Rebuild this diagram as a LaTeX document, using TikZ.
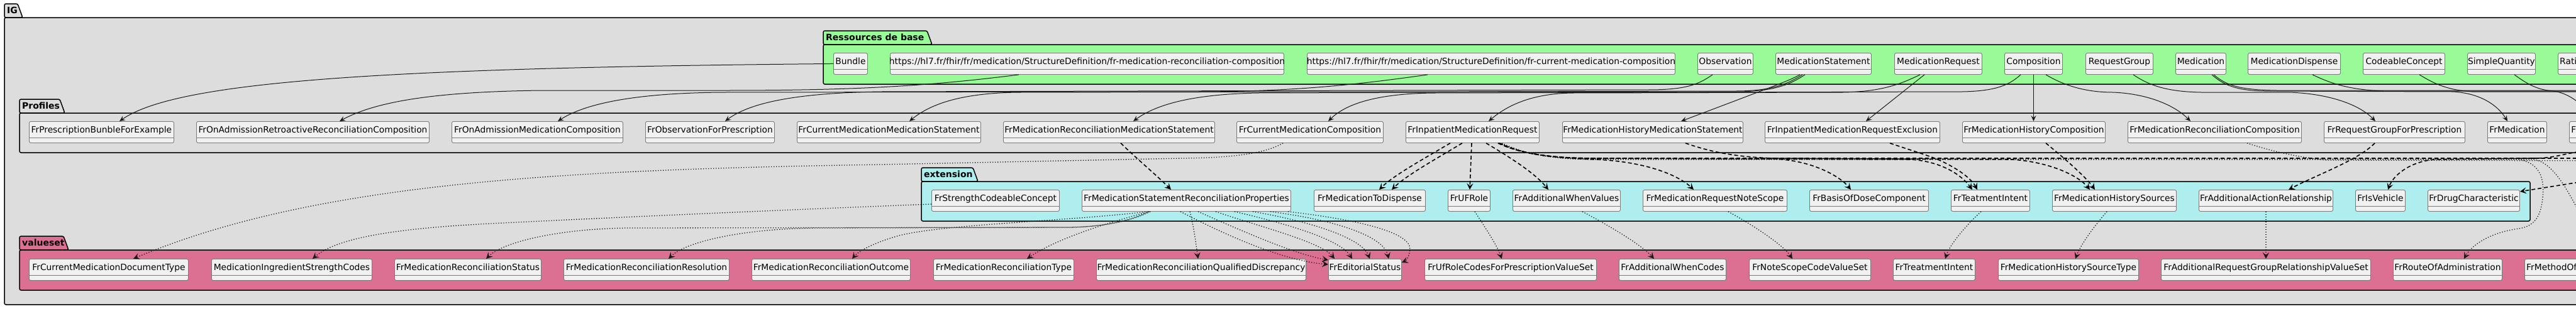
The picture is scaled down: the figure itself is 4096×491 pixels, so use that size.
\documentclass[tikz,border=0pt]{standalone}
\usepackage{fontspec}
\setmainfont{DejaVu Sans}
\usetikzlibrary{arrows.meta,calc}
\definecolor{igbg}{HTML}{DDDDDD}
\definecolor{resbg}{HTML}{98FB98}
\definecolor{extbg}{HTML}{AFEEEE}
\definecolor{vsbg}{HTML}{DB7093}
\definecolor{clsbg}{HTML}{F1F1F1}
\definecolor{clsline}{HTML}{7A7A7A}
\definecolor{edgec}{HTML}{181818}
\tikzset{
 cls/.style={draw=clsline, fill=clsbg, line width=0.9pt, rounded corners=2.5pt, minimum height=34, inner sep=0pt, anchor=north west},
 sepl/.style={draw=clsline, line width=0.9pt},
 lbl/.style={font=\fontsize{13.8}{16}\selectfont, inner sep=0pt, anchor=base},
 lblw/.style={font=\fontsize{13.8}{16}\selectfont, inner sep=0pt, anchor=base west},
 frm/.style={draw=black, line width=1.5pt},
 tablbl/.style={font=\bfseries\fontsize{14}{16}\selectfont, inner sep=0pt, anchor=base west},
 gen/.style={draw=edgec, line width=1pt, -{Stealth[length=9pt,width=8pt,inset=3.5pt]}},
 dep/.style={draw=black, line width=1.6pt, dash pattern=on 6pt off 4pt, -{Stealth[length=10pt,width=10pt,inset=4pt]}},
 bind/.style={draw=edgec, line width=1.3pt, dash pattern=on 1.3pt off 2.7pt, -{Stealth[length=10pt,width=10pt,inset=4pt]}},
}
\newcommand\umlbox[5]{%
 \node[cls, minimum width={#3-#2}] (#1) at (#2,#4) {};
 \draw[sepl] ($(#1.north west)+(0,26)$) -- ($(#1.north east)+(0,26)$);
 \node[lbl] (#1t) at ($(#1.north)+(0,18.5)$) {#5};
}
\newcommand\cutbox[4]{%
 \node[cls, minimum width=200] (#1) at (#2,#3) {};
 \draw[sepl] ($(#1.north west)+(0,26)$) -- ($(#1.north east)+(0,26)$);
 \node[lblw] (#1t) at ({#2+3},{#3+18.5}) {#4};
}
\newcommand\umlpkg[9]{%
 \draw[frm, fill=#2, rounded corners=2.5pt] (#4,#7) -- (#4,#6) -- ({#5-8},#6) -- (#5,#7) -- cycle;
 \draw[frm, fill=#2, rounded corners=2.5pt] (#4,#7) rectangle (#8,#9);
 \node[tablbl] (#1) at ({#4+4},{#6+15.5}) {#3};
}
\begin{document}
\begin{tikzpicture}[x=1pt,y=-1pt]
\useasboundingbox (0,0) rectangle (4096,491);
\clip (0,0) rectangle (4096,491);
\fill[white] (0,0) rectangle (4096,491);
% packages
\umlpkg{pkIG}{igbg}{IG}{7}{36}{6}{28}{4200}{485}
\umlpkg{pkRes}{resbg}{Ressources de base}{1309}{1482}{49}{71}{4200}{134}
\umlpkg{pkProf}{igbg}{Profiles}{31}{103}{158}{180}{4200}{243}
\umlpkg{pkExt}{extbg}{extension}{1465}{1555}{267}{289}{4023}{352}
\umlpkg{pkVs}{vsbg}{valueset}{31}{109}{376}{398}{4200}{462}
% Ressources de base
\umlbox{bundle}{1325}{1379}{84}{Bundle}
\umlbox{urlrec}{1415}{2041}{84}{https://hl7.fr/fhir/fr/medication/StructureDefinition/fr-medication-reconciliation-composition}
\umlbox{urlcur}{2078}{2663}{84}{https://hl7.fr/fhir/fr/medication/StructureDefinition/fr-current-medication-composition}
\umlbox{obs}{2699}{2787}{84}{Observation}
\umlbox{mstat}{2823}{2975}{84}{MedicationStatement}
\umlbox{mreq}{3012}{3151}{84}{MedicationRequest}
\umlbox{compo}{3187}{3279}{84}{Composition}
\umlbox{rgroup}{3316}{3423}{84}{RequestGroup}
\umlbox{med}{3459}{3539}{84}{Medication}
\umlbox{mdisp}{3574}{3721}{84}{MedicationDispense}
\umlbox{ccon}{3757}{3887}{84}{CodeableConcept}
\umlbox{squant}{3923}{4031}{84}{SimpleQuantity}
\cutbox{ratio}{4067}{84}{Rati}
% Profiles
\umlbox{pbundle}{46}{276}{193}{FrPrescriptionBunbleForExample}
\umlbox{ponadretro}{312}{682}{193}{FrOnAdmissionRetroactiveReconciliationComposition}
\umlbox{ponadmed}{718}{990}{193}{FrOnAdmissionMedicationComposition}
\umlbox{pobs}{1026}{1231}{193}{FrObservationForPrescription}
\umlbox{pcurms}{1267}{1559}{193}{FrCurrentMedicationMedicationStatement}
\umlbox{precms}{1595}{1931}{193}{FrMedicationReconciliationMedicationStatement}
\umlbox{pcurcomp}{1966}{2199}{193}{FrCurrentMedicationComposition}
\umlbox{pimr}{2235}{2447}{193}{FrInpatientMedicationRequest}
\umlbox{phistms}{2484}{2771}{193}{FrMedicationHistoryMedicationStatement}
\umlbox{pimrex}{2806}{3084}{193}{FrInpatientMedicationRequestExclusion}
\umlbox{phistcomp}{3120}{3347}{193}{FrMedicationHistoryComposition}
\umlbox{preccomp}{3383}{3659}{193}{FrMedicationReconciliationComposition}
\umlbox{prg}{3695}{3919}{193}{FrRequestGroupForPrescription}
\umlbox{pmed}{3955}{4049}{193}{FrMedication}
\cutbox{pnext}{4085}{193}{F}
% extension
\umlbox{estrength}{1481}{1684}{302}{FrStrengthCodeableConcept}
\umlbox{ereconprop}{1720}{2052}{302}{FrMedicationStatementReconciliationProperties}
\umlbox{etodisp}{2089}{2266}{302}{FrMedicationToDispense}
\umlbox{eufrole}{2302}{2369}{302}{FrUFRole}
\umlbox{eaddwhen}{2405}{2576}{302}{FrAdditionalWhenValues}
\umlbox{enotescope}{2612}{2841}{302}{FrMedicationRequestNoteScope}
\umlbox{ebasis}{2877}{3066}{302}{FrBasisOfDoseComponent}
\umlbox{eintent}{3102}{3227}{302}{FrTeatmentIntent}
\umlbox{ehistsrc}{3263}{3460}{302}{FrMedicationHistorySources}
\umlbox{eaction}{3496}{3709}{302}{FrAdditionalActionRelationship}
\umlbox{evehicle}{3745}{3824}{302}{FrIsVehicle}
\umlbox{edrug}{3860}{4006}{302}{FrDrugCharacteristic}
% valueset
\umlbox{vdoctype}{46}{299}{412}{FrCurrentMedicationDocumentType}
\umlbox{vstrength}{336}{591}{412}{MedicationIngredientStrengthCodes}
\umlbox{vstatus}{627}{860}{412}{FrMedicationReconciliationStatus}
\umlbox{vresol}{896}{1159}{412}{FrMedicationReconciliationResolution}
\umlbox{voutcome}{1195}{1447}{412}{FrMedicationReconciliationOutcome}
\umlbox{vtype}{1484}{1707}{412}{FrMedicationReconciliationType}
\umlbox{vdiscr}{1743}{2076}{412}{FrMedicationReconciliationQualifiedDiscrepancy}
\umlbox{veditorial}{2112}{2228}{412}{FrEditorialStatus}
\umlbox{vufrole}{2265}{2538}{412}{FrUfRoleCodesForPrescriptionValueSet}
\umlbox{vaddwhen}{2574}{2744}{412}{FrAdditionalWhenCodes}
\umlbox{vnotescope}{2781}{2974}{412}{FrNoteScopeCodeValueSet}
\umlbox{vintent}{3010}{3140}{412}{FrTreatmentIntent}
\umlbox{vhistsrc}{3177}{3400}{412}{FrMedicationHistorySourceType}
\umlbox{vrgrel}{3436}{3769}{412}{FrAdditionalRequestGroupRelationshipValueSet}
\umlbox{vroute}{3805}{3978}{412}{FrRouteOfAdministration}
\cutbox{vnext}{4014}{412}{FrMethodOf}
% off-picture ends
\coordinate (offA) at (4200,144);
\coordinate (offB) at (4200,145);
\coordinate (offC) at (4200,146);
\coordinate (offD) at (4125,193);
\coordinate (offE) at (4110,240);
\coordinate (offF) at (4120,287);
\coordinate (offG) at (4200,252);
\coordinate (offH) at (4130,400);
\coordinate (offI) at (4200,256);
% generalisations (solid)
\draw[gen] (bundle.west) .. controls (600,108) and (280,130) .. (190,0 |- pbundle.north);
\draw[gen] (1620,0 |- urlrec.south) .. controls (1470,138) and (1350,144) .. (1150,144) -- (860,144) .. controls (700,146) and (600,160) .. (540,0 |- ponadretro.north);
\draw[gen] (2270,0 |- urlcur.south) .. controls (2150,136) and (2050,146) .. (1900,146) -- (1150,147) .. controls (1010,148) and (930,165) .. (887,0 |- ponadmed.north);
\draw[gen] (2723,0 |- obs.south) .. controls (2700,135) and (2680,143) .. (2620,143) -- (1400,146) .. controls (1260,148) and (1190,165) .. (1153,0 |- pobs.north);
\draw[gen] (2866,0 |- mstat.south) .. controls (2845,132) and (2820,145) .. (2760,145) -- (1620,147) .. controls (1530,148) and (1480,165) .. (1446,0 |- pcurms.north);
\draw[gen] (2870,0 |- mstat.south) .. controls (2850,132) and (2825,146) .. (2760,146) -- (2000,148) .. controls (1900,150) and (1840,165) .. (1802,0 |- precms.north);
\draw[gen] (2862,0 |- mstat.south) .. controls (2845,128) .. (2673,0 |- phistms.north);
\draw[gen] (3213,0 |- compo.south) .. controls (3195,135) and (3175,145) .. (3120,146) -- (2280,148) .. controls (2190,149) and (2140,165) .. (2112,0 |- pcurcomp.north);
\draw[gen] (3053,0 |- mreq.south) .. controls (3020,135) and (2990,146) .. (2930,147) -- (2500,148) .. controls (2440,149) and (2400,165) .. (2367,0 |- pimr.north);
\draw[gen] (3060,0 |- mreq.south) -- (2967,0 |- pimrex.north);
\draw[gen] (compo.south) -- (compo.south |- phistcomp.north);
\draw[gen] (3253,0 |- compo.south) .. controls (3285,138) and (3320,147) .. (3360,147) .. controls (3410,149) and (3455,165) .. (3483,0 |- preccomp.north);
\draw[gen] (3392,0 |- rgroup.south) .. controls (3420,138) and (3450,146) .. (3500,147) -- (3640,147) .. controls (3700,149) and (3750,165) .. (3777,0 |- prg.north);
\draw[gen] (3517,0 |- med.south) .. controls (3535,135) and (3555,144) .. (3600,145) -- (3900,146) .. controls (3940,148) and (3970,165) .. (3987,0 |- pmed.north);
\draw[gen] (3520,0 |- med.south) .. controls (3540,136) and (3560,143) .. (3620,144) -- (offA);
\draw[gen] (3677,0 |- mdisp.south) .. controls (3710,135) and (3740,143) .. (3790,145) -- (offB);
\draw[gen] (3847,0 |- ccon.south) .. controls (3870,133) and (3890,143) .. (3930,146) -- (offC);
\draw[gen] (3998,0 |- squant.south) .. controls (4020,135) and (4035,143) .. (4060,145) .. controls (4085,148) and (4110,168) .. (offD);
% dependencies (dashed)
\draw[dep] (1782,0 |- precms.south) .. controls (1810,255) and (1840,280) .. (1862,0 |- ereconprop.north);
\draw[dep] (2306,0 |- pimr.south) .. controls (2260,255) and (2215,280) .. (2193,0 |- etodisp.north);
\draw[dep] (2325,0 |- pimr.south) .. controls (2280,255) and (2235,280) .. (2213,0 |- etodisp.north);
\draw[dep] (2340,0 |- pimr.south) -- (2337,0 |- eufrole.north);
\draw[dep] (2363,0 |- pimr.south) .. controls (2400,250) and (2440,275) .. (2462,0 |- eaddwhen.north);
\draw[dep] (2382,0 |- pimr.south) .. controls (2420,245) and (2470,252) .. (2540,254) .. controls (2620,258) and (2670,280) .. (2693,0 |- enotescope.north);
\draw[dep] (2382,0 |- pimr.south) .. controls (2420,246) and (2470,252) .. (2540,252) -- (2820,253) .. controls (2880,255) and (2925,280) .. (2943,0 |- ebasis.north);
\draw[dep] (2384,0 |- pimr.south) .. controls (2420,246) and (2470,252) .. (2540,252) -- (3040,254) .. controls (3090,258) and (3120,280) .. (3136,0 |- eintent.north);
\draw[dep] (2384,0 |- pimr.south) .. controls (2420,246) and (2470,252) .. (2540,252) -- (offG);
\draw[dep] (3005,0 |- pimrex.south) .. controls (3040,240) and (3075,250) .. (3090,258) .. controls (3115,270) and (3135,285) .. (3144,0 |- eintent.north);
\draw[dep] (2680,0 |- phistms.south) .. controls (2720,242) and (2760,250) .. (2820,252) -- (3200,254) .. controls (3260,258) and (3305,280) .. (3323,0 |- ehistsrc.north);
\draw[dep] (3253,0 |- phistcomp.south) .. controls (3280,250) and (3315,280) .. (3331,0 |- ehistsrc.north);
\draw[dep] (3776,0 |- prg.south) .. controls (3750,255) and (3680,280) .. (3639,0 |- eaction.north);
\draw[dep] (offE) .. controls (4075,245) and (4060,252) .. (4030,252) -- (3870,254) .. controls (3830,258) and (3805,280) .. (3797,0 |- evehicle.north);
\draw[dep] (offF) -- (edrug.east |- 0,305);
% bindings (dotted)
\draw[bind] (2040,0 |- pcurcomp.south) .. controls (2010,245) and (1960,251) .. (1880,252) -- (1400,262) .. controls (900,270) and (500,290) .. (212,0 |- vdoctype.north);
\draw[bind] (estrength.west |- 0,325) .. controls (1300,332) and (1000,345) .. (800,355) .. controls (650,362) and (540,375) .. (497,0 |- vstrength.north);
\draw[bind] (1827,0 |- ereconprop.south) .. controls (1800,350) and (1760,361) .. (1700,362) -- (1000,363) .. controls (890,364) and (800,385) .. (773,0 |- vstatus.north);
\draw[bind] (1829,0 |- ereconprop.south) .. controls (1802,350) and (1762,361) .. (1700,362) -- (1300,363) .. controls (1180,364) and (1090,385) .. (1063,0 |- vresol.north);
\draw[bind] (1825,0 |- ereconprop.south) .. controls (1700,352) and (1500,357) .. (1430,375) .. controls (1390,386) and (1365,400) .. (1355,0 |- voutcome.north);
\draw[bind] (1827,0 |- ereconprop.south) .. controls (1760,355) and (1680,380) .. (1633,0 |- vtype.north);
\draw[bind] (1892,0 |- ereconprop.south) .. controls (1898,360) and (1902,390) .. (1905,0 |- vdiscr.north);
\draw[bind] (1877,0 |- ereconprop.south) .. controls (1950,375) and (2040,415) .. (veditorial.west |- 0,421);
\draw[bind] (1905,0 |- ereconprop.south) .. controls (1980,370) and (2060,405) .. (veditorial.west |- 0,414);
\draw[bind] (1933,0 |- ereconprop.south) .. controls (2000,360) and (2100,385) .. (2122,0 |- veditorial.north);
\draw[bind] (1963,0 |- ereconprop.south) .. controls (2040,355) and (2130,380) .. (2150,0 |- veditorial.north);
\draw[bind] (1992,0 |- ereconprop.south) .. controls (2080,352) and (2165,378) .. (2178,0 |- veditorial.north);
\draw[bind] (2020,0 |- ereconprop.south) .. controls (2120,350) and (2200,375) .. (2208,0 |- veditorial.north);
\draw[bind] (2048,0 |- ereconprop.south) .. controls (2160,350) and (2245,370) .. (2242,398) .. controls (2240,410) and (2236,415) .. (veditorial.east |- 0,418);
\draw[bind] (2345,0 |- eufrole.south) .. controls (2360,360) and (2380,390) .. (2388,0 |- vufrole.north);
\draw[bind] (2516,0 |- eaddwhen.south) .. controls (2560,360) and (2610,390) .. (2630,0 |- vaddwhen.north);
\draw[bind] (2748,0 |- enotescope.south) .. controls (2790,360) and (2835,390) .. (2850,0 |- vnotescope.north);
\draw[bind] (3150,0 |- eintent.south) .. controls (3125,360) and (3100,390) .. (3093,0 |- vintent.north);
\draw[bind] (3350,0 |- ehistsrc.south) .. controls (3330,360) and (3308,390) .. (3300,0 |- vhistsrc.north);
\draw[bind] (eaction.south) -- (eaction.south |- vrgrel.north);
\draw[bind] (2388,0 |- pimr.south) .. controls (2425,246) and (2470,253) .. (2540,253) -- (4000,253) .. controls (4040,258) and (4046,285) .. (4043,315) .. controls (4040,345) and (4030,360) .. (4005,364) .. controls (3960,370) and (3930,390) .. (3918,0 |- vroute.north);
\draw[bind] (2388,0 |- pimr.south) .. controls (2425,246) and (2470,254) .. (2540,254) -- (4030,254) .. controls (4060,260) and (4085,300) .. (offH);
\draw[bind] (3573,0 |- preccomp.south) .. controls (3610,240) and (3650,250) .. (3700,255) -- (offI);
\end{tikzpicture}
\end{document}
